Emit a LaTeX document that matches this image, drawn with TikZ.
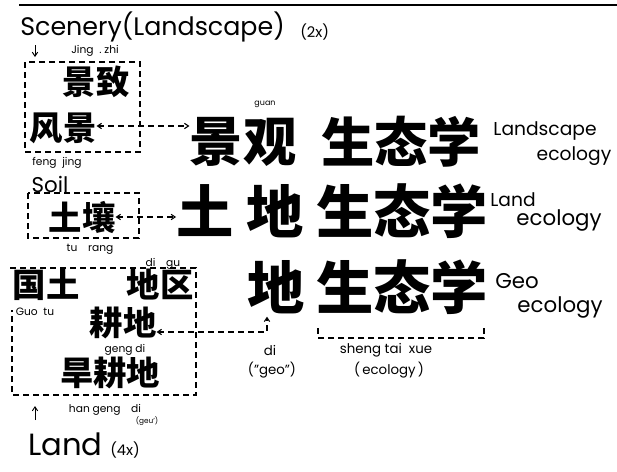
\documentclass[tikz,border=0pt]{standalone}
\usepackage{fontspec}
\setmainfont{Poppins}
\newfontfamily\cjk{Noto Sans CJK SC}
\usetikzlibrary{arrows.meta}
\begin{document}
\begin{tikzpicture}[x=0.75pt,y=-0.75pt,
  bigA/.style={font=\cjk\bfseries\fontsize{40}{40}\selectfont, inner sep=0pt},
  big/.style={font=\cjk\bfseries\fontsize{43}{43}\selectfont, inner sep=0pt},
  sm/.style={font=\cjk\bfseries\fontsize{25}{25}\selectfont, inner sep=0pt},
  hand/.style={font=\fontsize{14}{14}\selectfont, inner sep=0pt},
  handmid/.style={font=\fontsize{16}{16}\selectfont, inner sep=0pt},
  handbig/.style={font=\fontsize{19}{19}\selectfont, inner sep=0pt},
  note/.style={font=\fontsize{10}{10}\selectfont, inner sep=0pt},
  pin/.style={font=\fontsize{8}{8}\selectfont, inner sep=0pt},
  dl/.style={line width=0.8pt, dash pattern=on 4.5pt off 3pt},
  barb/.tip={Straight Barb[length=3pt,width=4pt]},
  tip/.style={-barb, line width=0.7pt}]
\useasboundingbox (0,0) rectangle (617,471);
% top rule
\draw[line width=1.4pt] (19,5) -- (617,5);
% title
\node[handbig, anchor=base west] (scen) at (20,35) {Scenery(Landscape)};
\node[font=\fontsize{11}{11}\selectfont, inner sep=0pt, anchor=base west] (twox) at (300,37) {(2x)};
\coordinate (adtop) at (35,45);
\coordinate (adbot) at (35,57);
\draw[tip] (adtop) -- (adbot);
\node[pin] (jz) at (95,51) {Jing\ \ .\ zhi};
% box 1
\draw[dl] (25,62) rectangle (140,152);
\node[sm] (jzc) at (96,82) {景致};
\node[sm] (fj) at (63,128) {风景};
\node[pin] (fjp) at (57,163) {feng\ \ jing};
% row 1
\node[font=\fontsize{6}{6}\selectfont, inner sep=0pt] (guan) at (265,104) {guan};
\node[bigA] (jg) at (243,142) {景观};
\node[bigA] (sta) at (401,142) {生态学};
\draw[dl,barb-barb] ([yshift=1.5pt]fj.east) -- ([yshift=1.5pt]fj.east -| jg.west);
\node[hand] (ls1) at (545,131) {Landscape};
\node[hand] (ec1) at (574,156) {ecology};
% box 2
\node[handmid] (soil) at (50,184) {Soil};
\draw[dl] (28,193) rectangle (139,238);
\node[sm] (tr) at (82,217) {土壤};
\node[pin] (trp) at (90,249) {tu\quad rang};
% row 2
\node[big] (tu) at (205,211) {土};
\node[big] (di2) at (275,211) {地};
\node[big] (stb) at (402,211) {生态学};
\draw[dl,barb-barb] (tr.east) -- (tr.east -| tu.west);
\node[hand] (ld2) at (513,200) {Land};
\node[handmid] (ec2) at (559,220) {ecology};
% box 3
\node[pin] (dqp) at (163,264) {di\quad gu};
\draw[dl] (10,268) -- (196,268) -- (196,395) -- (12,395) -- (12,310);
\node[sm] (gt) at (46,285) {国土};
\node[sm] (dq) at (160,285) {地区};
\node[pin] (gtp) at (35,312) {Guo\ \ tu};
\node[sm] (gd) at (123,323) {耕地};
\node[pin] (gdp) at (125,350) {geng di};
\node[sm] (hgd) at (110,373) {旱耕地};
% row 3
\node[big] (di3) at (276,287) {地};
\node[big] (stc) at (402,287) {生态学};
\node[handmid] (geo) at (517,281) {Geo};
\node[handmid] (ec3) at (560,307) {ecology};
\draw[dl,barb-barb]
  ([yshift=-6.75pt]gd.east) -| ([xshift=-6.75pt,yshift=-2pt]di3.south);
% bracket under sheng tai xue
\draw[dl] (318,328) -- (318,338) -- (484,338) -- (484,328);
\node[note] (dip) at (270,350) {di};
\node[note] (geoq) at (272,370) {("geo")};
\node[note] (stx) at (386,350) {sheng\ tai\ \ xue};
\node[note] (ecq) at (389,370) {(\,ecology\,)};
% bottom
\coordinate (aubot) at (35,420);
\coordinate (autop) at (35,406);
\draw[tip] (aubot) -- (autop);
\node[pin] (hgdp) at (105,410) {han\ geng\quad di};
\node[font=\fontsize{5.5}{5.5}\selectfont, inner sep=0pt] (geu) at (147,421) {(geu')};
\node[font=\fontsize{23}{23}\selectfont, inner sep=0pt, anchor=base west] (land) at (28,455) {Land};
\node[font=\fontsize{11}{11}\selectfont, inner sep=0pt, anchor=base west] (fourx) at (110,455) {(4x)};
\end{tikzpicture}
\end{document}
